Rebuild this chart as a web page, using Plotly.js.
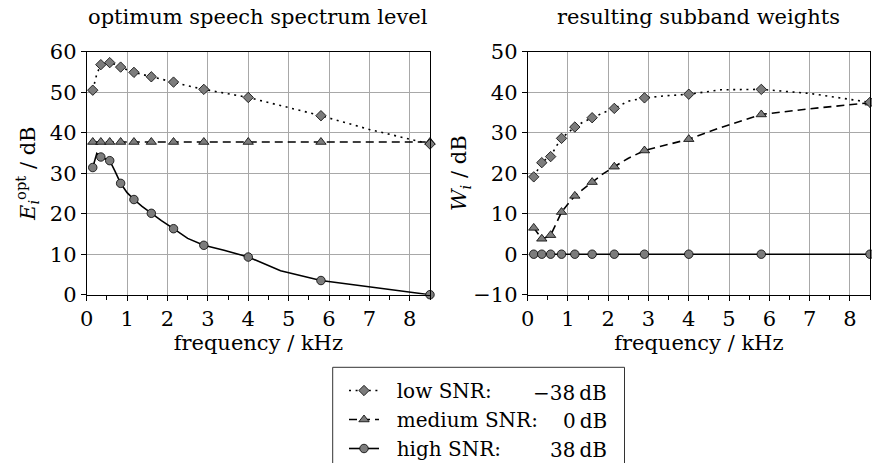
<!DOCTYPE html>
<html>
<head>
<meta charset="utf-8">
<script src="https://cdn.plot.ly/plotly-3.0.1.min.js"></script>
<style>
  html, body { margin: 0; padding: 0; background: #fff; }
  #chart { width: 872px; height: 463px; }
</style>
</head>
<body>
<div id="chart"></div>
<script>
// Critical-band centre frequencies (kHz); markers sit on every second band.
const freqKHz = [0.15, 0.25, 0.35, 0.45, 0.57, 0.70, 0.84, 1.00, 1.17, 1.37, 1.60,
                 1.85, 2.15, 2.50, 2.90, 3.40, 4.00, 4.80, 5.80, 7.00, 8.50];
const markedIdx = [0, 2, 4, 6, 8, 10, 12, 14, 16, 18, 20];

// Optimum speech spectrum level E_i^opt (dB)
const lowSpec  = [50.5, 54.5, 56.8, 57.2, 57.3, 56.9, 56.2, 55.6, 54.9, 54.4, 53.8,
                  53.2, 52.5, 51.6, 50.7, 49.8, 48.7, 46.7, 44.2, 40.8, 37.2];
const medSpec  = [37.7, 37.7, 37.7, 37.7, 37.7, 37.7, 37.7, 37.7, 37.7, 37.7, 37.7,
                  37.7, 37.7, 37.7, 37.7, 37.7, 37.7, 37.7, 37.7, 37.7, 37.7];
const highSpec = [31.4, 34.9, 34.0, 33.6, 33.1, 30.5, 27.5, 25.2, 23.5, 21.8, 20.1,
                  18.3, 16.3, 13.9, 12.2, 11.0, 9.3, 5.9, 3.5, 2.0, 0.0];

// Resulting subband weights W_i (dB)
const lowWeight  = [19.1, 21.0, 22.6, 23.4, 24.1, 26.5, 28.6, 30.0, 31.4, 32.6, 33.7,
                    34.8, 36.0, 37.8, 38.6, 39.1, 39.5, 40.6, 40.7, 39.7, 37.5];
const medWeight  = [6.5, 5.0, 3.8, 4.1, 4.7, 7.4, 10.4, 12.4, 14.4, 16.0, 17.8,
                    19.7, 21.6, 23.7, 25.6, 26.9, 28.4, 31.3, 34.5, 35.9, 37.4];
const highWeight = [0, 0, 0, 0, 0, 0, 0, 0, 0, 0, 0,
                    0, 0, 0, 0, 0, 0, 0, 0, 0, 0];

const seriesNames = ['low SNR:', 'medium SNR:', 'high SNR:'];
const snrLabels   = ['\u221238\u2009dB', '0\u2009dB', '38\u2009dB'];
const panelTitles = ['optimum speech spectrum level', 'resulting subband weights'];

const FONT = 'DejaVu Serif, serif';
const styles = [
  { dash: '2px,4.6px', symbol: 'diamond',     size: 8 },
  { dash: '8px,5px',   symbol: 'triangle-up', size: 9 },
  { dash: 'solid',     symbol: 'circle',      size: 8.5 }
];

function makeTrace(y, k, xa, ya, showlegend) {
  const s = styles[k];
  return {
    type: 'scatter', mode: 'lines+markers',
    x: freqKHz, y: y, xaxis: xa, yaxis: ya,
    name: '\u00a0\u00a0' + seriesNames[k], legendgroup: 's' + k, legendrank: k + 1,
    showlegend: showlegend, cliponaxis: false, hoverinfo: 'skip',
    line: { color: '#000', width: 1.6, dash: s.dash },
    marker: { symbol: s.symbol, size: s.size, color: '#7c7c7c',
              line: { color: '#000', width: 0.8 } },
    selectedpoints: markedIdx,
    selected: { marker: { opacity: 1 } },
    unselected: { marker: { opacity: 0 } }
  };
}

// high drawn first so the low-SNR diamonds end up on top
const traces = [
  makeTrace(highSpec, 2, 'x', 'y', true),
  makeTrace(medSpec, 1, 'x', 'y', true),
  makeTrace(lowSpec, 0, 'x', 'y', true),
  makeTrace(highWeight, 2, 'x2', 'y2', false),
  makeTrace(medWeight, 1, 'x2', 'y2', false),
  makeTrace(lowWeight, 0, 'x2', 'y2', false)
];

const W = 872, H = 463;
const yDom = [1 - 294.7 / H, 1 - 51.7 / H];
const xDom1 = [86.7 / W, 430 / W];
const xDom2 = [527.7 / W, 870 / W];

const axisCommon = {
  showline: true, linecolor: '#000', linewidth: 1, mirror: true,
  ticks: 'outside', ticklen: 5, tickcolor: '#000', tickwidth: 1,
  showgrid: true, gridcolor: '#a8a8a8', gridwidth: 1, zeroline: false,
  tickfont: { family: FONT, size: 21, color: '#000' },
  fixedrange: true, automargin: false
};
const xCommon = Object.assign({}, axisCommon, {
  range: [0, 8.5], tick0: 0, dtick: 1,
  minor: { dtick: 0.5, ticks: 'outside', ticklen: 4, tickcolor: '#000', showgrid: false },
  title: { text: 'frequency / kHz', font: { family: FONT, size: 21, color: '#000' }, standoff: 2 }
});

const layout = {
  width: W, height: H,
  margin: { l: 0, r: 0, t: 0, b: 0, autoexpand: false },
  paper_bgcolor: '#fff', plot_bgcolor: '#fff',
  font: { family: FONT, color: '#000' },
  xaxis: Object.assign({}, xCommon, { domain: xDom1, anchor: 'y' }),
  xaxis2: Object.assign({}, xCommon, { domain: xDom2, anchor: 'y2' }),
  yaxis: Object.assign({}, axisCommon, {
    domain: yDom, anchor: 'x', range: [0, 60], dtick: 10,
    title: { text: '<i>E</i><sub><i>i</i></sub><sup>opt</sup> / dB',
             font: { family: FONT, size: 21, color: '#000' }, standoff: 8 }
  }),
  yaxis2: Object.assign({}, axisCommon, {
    domain: yDom, anchor: 'x2', range: [-10, 50], dtick: 10,
    title: { text: '<i>W</i><sub><i>i</i></sub> / dB',
             font: { family: FONT, size: 21, color: '#000' }, standoff: 0 }
  }),
  showlegend: true,
  legend: {
    x: 344 / W, y: 1 - 371 / H, xanchor: 'left', yanchor: 'top',
    bgcolor: 'rgba(0,0,0,0)', borderwidth: 0,
    font: { family: FONT, size: 20, color: '#000' },
    tracegroupgap: 0
  },
  // legend frame, open at the bottom edge of the page
  shapes: [
    { type: 'path', xref: 'paper', yref: 'paper',
      path: 'M ' + (332.7 / W) + ' ' + (1 - 475 / H) +
            ' L ' + (332.7 / W) + ' ' + (1 - 367.3 / H) +
            ' L ' + (624.5 / W) + ' ' + (1 - 367.3 / H) +
            ' L ' + (624.5 / W) + ' ' + (1 - 475 / H),
      line: { color: '#333', width: 1 }, fillcolor: 'rgba(0,0,0,0)' }
  ],
  annotations: [
    { text: panelTitles[0], xref: 'paper', yref: 'paper', x: (xDom1[0] + xDom1[1]) / 2,
      y: 1 - 17 / H, xanchor: 'center', yanchor: 'middle', showarrow: false,
      font: { family: FONT, size: 21, color: '#000' } },
    { text: panelTitles[1], xref: 'paper', yref: 'paper', x: (xDom2[0] + xDom2[1]) / 2,
      y: 1 - 17 / H, xanchor: 'center', yanchor: 'middle', showarrow: false,
      font: { family: FONT, size: 21, color: '#000' } }
  ].concat(snrLabels.map((t, k) => ({
    text: t, xref: 'paper', yref: 'paper', x: 609 / W, y: 1 - (392.5 + 28.5 * k) / H,
    xanchor: 'right', yanchor: 'middle', showarrow: false,
    font: { family: FONT, size: 20, color: '#000' }
  })))
};

Plotly.newPlot('chart', traces, layout, { staticPlot: true, displayModeBar: false });
</script>
</body>
</html>
